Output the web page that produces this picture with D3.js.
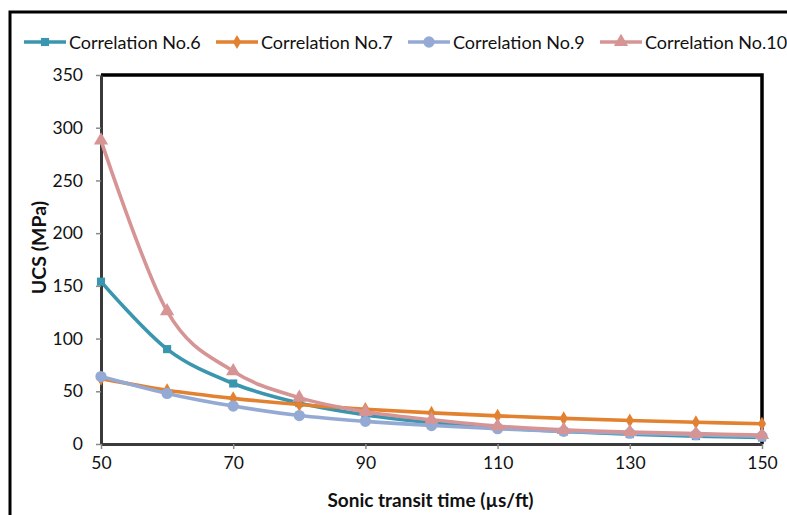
<!DOCTYPE html>
<html>
<head>
<meta charset="utf-8">
<script src="https://cdn.jsdelivr.net/npm/d3@7"></script>
<style>
  html, body { margin: 0; padding: 0; background: #fff; }
  svg { display: block; font-family: Lato, "Open Sans", sans-serif; }
</style>
</head>
<body>
<svg id="chart" width="787" height="515"></svg>
<script>
// Sonic transit time (µs/ft)
const transitTimes = [50, 60, 70, 80, 90, 100, 110, 120, 130, 140, 150];

// UCS (MPa) from each correlation
const corr6  = [154, 90, 57.4, 38.8, 27.5, 20.2, 15.3, 11.8, 9.4, 7.5, 6.2];
const corr7  = [62, 51, 43.3, 37.5, 33, 29.5, 26.7, 24.3, 22.3, 20.6, 19.2];
const corr9  = [64, 48, 36, 27, 21.5, 17.5, 14.5, 12, 10.3, 8.8, 7.4];
const corr10 = [288, 126, 69, 44, 30.5, 23, 17, 13.5, 11.4, 9.8, 8.6];

const seriesNames = ["Correlation No.6", "Correlation No.7", "Correlation No.9", "Correlation No.10"];
const seriesColors = ["#3A96AE", "#E2812F", "#94AAD4", "#D69494"];
const seriesMarkers = ["square", "diamond", "circle", "triangle"];
const seriesValues = [corr6, corr7, corr9, corr10];

const xTicks = [50, 70, 90, 110, 130, 150];
const yTicks = [0, 50, 100, 150, 200, 250, 300, 350];

const svg = d3.select("#chart");
const plot = { left: 101, right: 762, top: 75, bottom: 444 };

const x = d3.scaleLinear().domain([50, 150]).range([plot.left, plot.right]);
const y = d3.scaleLinear().domain([0, 350]).range([plot.bottom, plot.top]);

// outer chart border
svg.append("path")
  .attr("d", `M10,${515} V12 H787`)
  .attr("fill", "none").attr("stroke", "#000").attr("stroke-width", 3);

// plot area frame: heavy top and right edges
svg.append("path")
  .attr("d", `M${plot.left},${plot.top} H${plot.right} V${plot.bottom}`)
  .attr("fill", "none").attr("stroke", "#000").attr("stroke-width", 3.5);

// Y axis
const yAxis = svg.append("g")
  .attr("transform", `translate(${plot.left},0)`)
  .call(d3.axisLeft(y).tickValues(yTicks).tickSize(5).tickPadding(13).tickSizeOuter(0));
yAxis.select(".domain").attr("stroke", "#3a3a3a").attr("stroke-width", 3);
yAxis.selectAll(".tick line").attr("stroke", "#8a8a8a").attr("stroke-width", 1.5);
yAxis.selectAll(".tick text").attr("font-size", 17.5).attr("fill", "#111")
  .attr("font-family", "Lato, sans-serif");

// X axis
const xAxis = svg.append("g")
  .attr("transform", `translate(0,${plot.bottom})`)
  .call(d3.axisBottom(x).tickValues(xTicks).tickSize(5).tickPadding(8).tickSizeOuter(0));
xAxis.select(".domain").attr("stroke", "#3a3a3a").attr("stroke-width", 3);
xAxis.selectAll(".tick line").attr("stroke", "#8a8a8a").attr("stroke-width", 1.5);
xAxis.selectAll(".tick text").attr("font-size", 17.5).attr("fill", "#111")
  .attr("font-family", "Lato, sans-serif");

// axis titles
svg.append("text")
  .attr("x", (plot.left + plot.right) / 2 - 1).attr("y", 507)
  .attr("text-anchor", "middle").attr("font-size", 19).attr("font-weight", "bold")
  .attr("fill", "#111").text("Sonic transit time (µs/ft)");

svg.append("text")
  .attr("transform", `translate(46,${(plot.top + plot.bottom) / 2 - 12}) rotate(-90)`)
  .attr("text-anchor", "middle").attr("font-size", 19.5).attr("font-weight", "bold")
  .attr("fill", "#111").text("UCS (MPa)");

// marker shapes
function markerPath(kind) {
  const sym = {
    square: d3.symbol(d3.symbolSquare, 66),
    diamond: d3.symbol(d3.symbolDiamond, 58),
    circle: d3.symbol(d3.symbolCircle, 100),
    triangle: d3.symbol(d3.symbolTriangle, 88)
  };
  return sym[kind]();
}

const line = d3.line()
  .x(d => x(d[0]))
  .y(d => y(d[1]))
  .curve(d3.curveCardinal.tension(0));

seriesValues.forEach((vals, i) => {
  const pts = transitTimes.map((t, k) => [t, vals[k]]);
  const g = svg.append("g");
  g.append("path")
    .attr("d", line(pts))
    .attr("fill", "none")
    .attr("stroke", seriesColors[i])
    .attr("stroke-width", 3.6)
    .attr("stroke-linejoin", "round");
  g.selectAll("path.mk").data(pts).enter().append("path")
    .attr("class", "mk")
    .attr("d", markerPath(seriesMarkers[i]))
    .attr("transform", d => `translate(${x(d[0])},${y(d[1])})`)
    .attr("fill", seriesColors[i]);
});

// legend
const legendX = [24, 216, 408, 600];
seriesNames.forEach((name, i) => {
  const g = svg.append("g").attr("transform", `translate(${legendX[i]},42)`);
  g.append("line").attr("x1", 0).attr("x2", 42).attr("y1", 0).attr("y2", 0)
    .attr("stroke", seriesColors[i]).attr("stroke-width", 3.6);
  g.append("path").attr("d", markerPath(seriesMarkers[i]))
    .attr("transform", "translate(21,0)").attr("fill", seriesColors[i]);
  g.append("text").attr("x", 45).attr("y", 6.5)
    .attr("font-size", 18).attr("fill", "#111").text(name);
});
</script>
</body>
</html>
